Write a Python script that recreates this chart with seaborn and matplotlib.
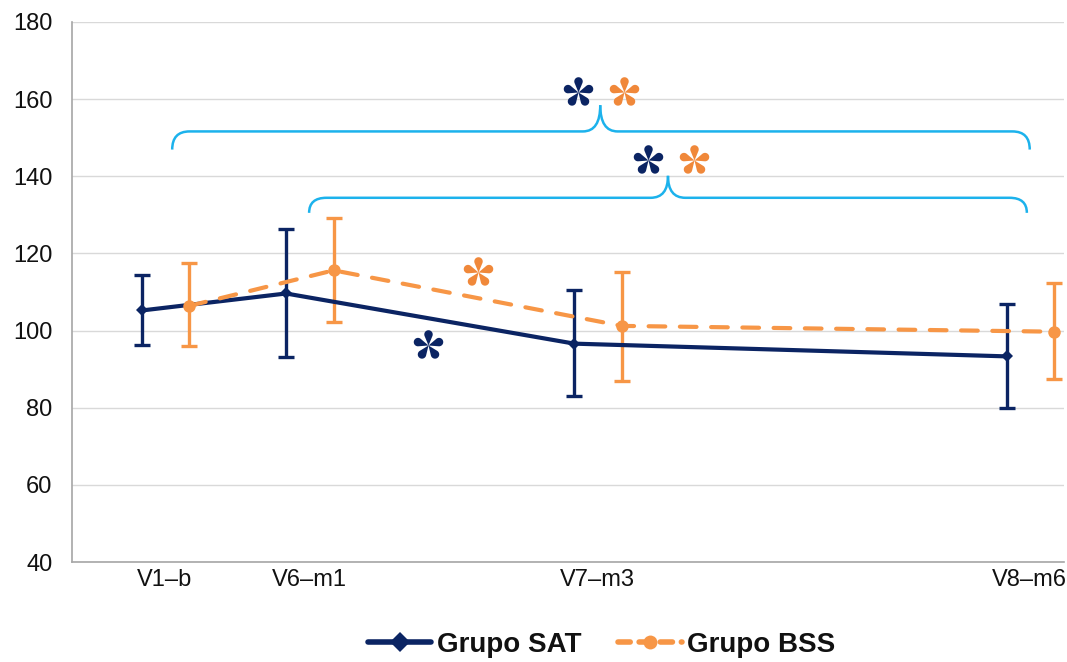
import numpy as np
import pandas as pd
import matplotlib
matplotlib.use("Agg")
import matplotlib.pyplot as plt
import seaborn as sns
from matplotlib.path import Path
from matplotlib.patches import PathPatch

# ---- data ----
visits = ["V1\u2013b", "V6\u2013m1", "V7\u2013m3", "V8\u2013m6"]
months = [0, 1, 3, 6]
sat_mean = [105.2, 109.6, 96.6, 93.3]
sat_upper = [114.3, 126.3, 110.4, 106.8]
sat_lower = [96.3, 93.2, 83.1, 79.9]
bss_mean = [106.4, 115.6, 101.2, 99.7]
bss_upper = [117.4, 129.2, 115.2, 112.3]
bss_lower = [95.9, 102.3, 86.9, 87.4]

NAVY = "#0B2463"
ORANGE = "#F79646"
ORANGE_STAR = "#F0883A"
BLUE = "#1CB2EC"

# significance annotations (x in months, y in units, group)
star_x = [2.866, 3.185, 3.352, 3.671, 2.172, 1.825]
star_y = [161.8, 161.8, 144.2, 144.2, 115.1, 96.2]
star_group = ["SAT", "BSS", "SAT", "BSS", "BSS", "SAT"]

sns.set_theme(style="white")
plt.rcParams["font.family"] = ["Liberation Sans", "DejaVu Sans"]

fig = plt.figure(figsize=(10.67, 6.62), dpi=100)
ax = fig.add_axes([0.0675, 0.151, 0.93, 0.816])

off_sat, off_bss = -0.16, 0.17
x_sat = np.array(months) + off_sat
x_bss = np.array(months) + off_bss

df = pd.DataFrame({
    "x": np.concatenate([x_sat, x_bss]),
    "y": sat_mean + bss_mean,
    "grupo": ["Grupo SAT"] * 4 + ["Grupo BSS"] * 4,
})

ax.errorbar(x_sat, sat_mean,
            yerr=[np.array(sat_mean) - np.array(sat_lower), np.array(sat_upper) - np.array(sat_mean)],
            fmt="none", ecolor=NAVY, elinewidth=2.4, capsize=6, capthick=2.4, zorder=3)
ax.errorbar(x_bss, bss_mean,
            yerr=[np.array(bss_mean) - np.array(bss_lower), np.array(bss_upper) - np.array(bss_mean)],
            fmt="none", ecolor=ORANGE, elinewidth=2.4, capsize=6, capthick=2.4, zorder=3)

sns.lineplot(data=df[df.grupo == "Grupo SAT"], x="x", y="y", ax=ax, color=NAVY,
             linewidth=3, marker="D", markersize=6, markeredgewidth=0,
             label="Grupo SAT", zorder=4, sort=False)
sns.lineplot(data=df[df.grupo == "Grupo BSS"], x="x", y="y", ax=ax, color=ORANGE,
             linewidth=3, marker="o", markersize=9, markeredgewidth=0,
             label="Grupo BSS", zorder=4, sort=False)
bl = ax.lines[-1]
bl.set_dashes([4, 3.5])
bl.set_dash_capstyle("round")

ax.set_xlim(-0.645, 6.24)
ax.set_ylim(40, 180)
ax.set_yticks(np.arange(40, 181, 20))
ax.set_xticks(months)
ax.set_xticklabels(visits)
ax.set_xlabel("")
ax.set_ylabel("")
ax.yaxis.grid(True, color="#D9D9D9", linewidth=1)
ax.xaxis.grid(False)
for s in ["top", "right"]:
    ax.spines[s].set_visible(False)
for s in ["left", "bottom"]:
    ax.spines[s].set_color("#A6A6A6")
    ax.spines[s].set_linewidth(1.2)
ax.tick_params(axis="both", labelsize=17, colors="#111111", length=0)
ax.tick_params(axis="x", pad=5)
ax.tick_params(axis="y", pad=14)

def brace(x0, x1, xm, yh, yend, ytip, r=0.12):
    codes = [Path.MOVETO, Path.CURVE3, Path.CURVE3, Path.LINETO, Path.CURVE3, Path.CURVE3]
    v1 = [(x0, yend), (x0, yh), (x0 + r, yh), (xm - r, yh), (xm, yh), (xm, ytip)]
    v2 = [(xm, ytip), (xm, yh), (xm + r, yh), (x1 - r, yh), (x1, yh), (x1, yend)]
    for v in (v1, v2):
        ax.add_patch(PathPatch(Path(v, codes), fill=False, edgecolor=BLUE, linewidth=1.8, zorder=2))

brace(0.05, 6.0, 3.02, 151.6, 146.9, 158.4)
brace(1.0, 5.98, 3.49, 134.4, 130.5, 140.1)

# five-petal teardrop asterisk marker
def petal_star(n=5, d=0.68, rr=0.26, npts=30):
    verts, codes = [], []
    phi0 = np.arccos(rr / d)
    for k in range(n):
        th = np.pi / 2 + 2 * np.pi * k / n
        c = d * np.array([np.cos(th), np.sin(th)])
        angs = np.linspace(th - (np.pi - phi0), th + (np.pi - phi0), npts)
        pts = [(0.0, 0.0)] + [tuple(c + rr * np.array([np.cos(a), np.sin(a)])) for a in angs] + [(0.0, 0.0)]
        verts += pts
        codes += [Path.MOVETO] + [Path.LINETO] * (len(pts) - 2) + [Path.CLOSEPOLY]
    return Path(verts, codes)

star_path = petal_star()
for sx, sy, g in zip(star_x, star_y, star_group):
    col = NAVY if g == "SAT" else ORANGE_STAR
    ax.plot([sx], [sy], linestyle="none", marker=star_path, markersize=22,
            color=col, markeredgewidth=0, zorder=5)

leg = ax.legend(handles=ax.get_legend_handles_labels()[0][:2], labels=["Grupo SAT", "Grupo BSS"],
                loc="center", bbox_to_anchor=(0.5637, 0.026), bbox_transform=fig.transFigure,
                ncol=2, frameon=False, handlelength=2.3, columnspacing=1.3, handletextpad=0.2,
                prop={"size": 20, "weight": "bold"})
hs = leg.legend_handles
hs[0].set_markersize(10)
hs[0].set_linewidth(4)
hs[1].set_markersize(10)
hs[1].set_linewidth(4)
hs[1].set_dashes([2.2, 1.6])
hs[1].set_dash_capstyle("round")
for t in leg.get_texts():
    t.set_color("#111111")

fig.savefig("out.png", dpi=100)
